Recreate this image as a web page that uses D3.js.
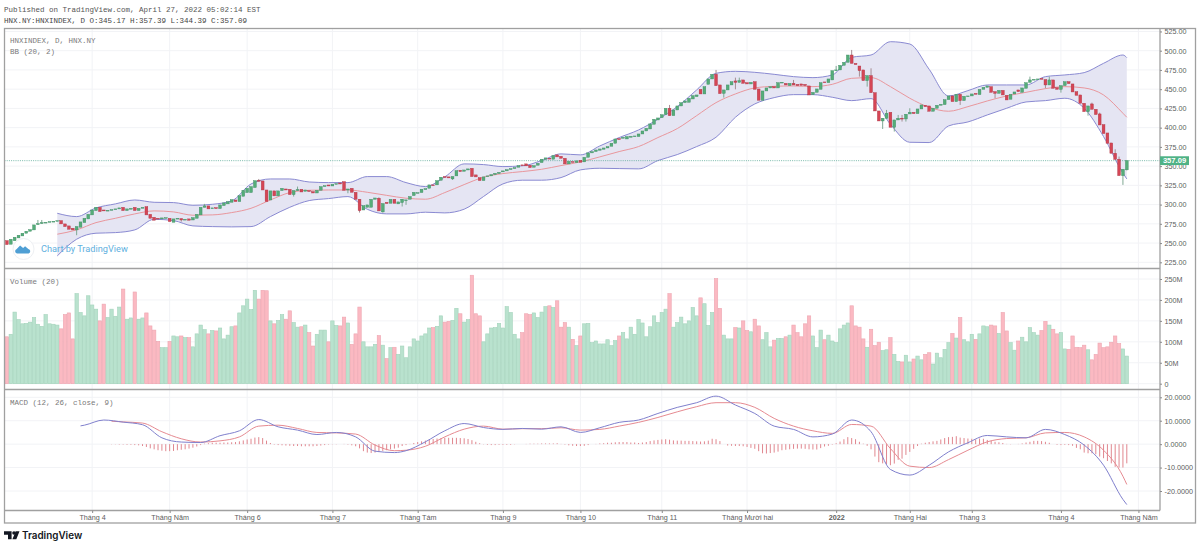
<!DOCTYPE html>
<html>
<head>
<meta charset="utf-8">
<script src="https://cdn.jsdelivr.net/npm/d3@7"></script>
<style>
    html, body { margin: 0; padding: 0; background: #fff; }
    svg { display: block; }
    .mono { font-family: "Liberation Mono", monospace; font-size: 7.5px; }
    .axis text { font-family: "Liberation Sans", sans-serif; font-size: 7.2px; fill: #5d5d5d; }
    .axis path { display: none; }
    .axis line { stroke: #8a8a8a; }
</style>
</head>
<body>
<svg id="chart" width="1200" height="547"></svg>
<script>
const opens = [
    253.2,248.5,253,256.7,259.3,262.8,265.4,267.1,274,275.3,
    276.6,277,277.9,278.3,279.2,274.9,272.3,269.3,267.1,270.6,
    276.6,281.4,286.6,292.2,296.5,293,291.8,292.6,293.5,294.4,
    296.5,292.2,294,296.5,292.2,295.2,297.4,287.4,283.5,282.2,
    281.4,282.7,282.2,277,281.4,281.8,280,281.4,280,282.2,
    286.6,296.5,298.3,294.8,296.1,294.8,298.7,300.9,303,306,
    303.9,310.8,315.6,315.6,322.1,331.6,330.7,319,306,317.8,
    311.3,318.2,320.3,319.9,313,318.2,319.9,317.3,318.2,316.9,
    315.1,318.6,323.4,325.5,324.2,326.4,328.1,329.9,319,321.2,
    316,306.9,293,296.5,296.5,306.9,308.2,290.5,303,301.7,
    306.9,300.9,302.7,305.3,307,311.7,314.8,315.6,319.5,321.3,
    325.6,325.6,331.6,336.4,336,333.4,337.3,344.6,343.3,345,
    347.2,338.6,335.1,331.2,336.4,337.3,339,340.3,342.5,343.8,
    345.5,346.8,348.6,351.6,352.9,351.2,348.6,351.2,354.6,359,
    360.2,359,364.6,362.8,360.2,352.9,355.9,354.6,357.6,355.5,
    361.5,367.2,368.9,370.6,371.9,373.6,375.8,379.7,385.8,386.2,
    385.3,387.5,388.4,388.4,391.8,395.7,398.3,404.4,410,413,
    416.9,425.2,415.6,423,428.2,432.5,433,437.3,440.3,449.8,
    443.8,456.3,463.3,469.3,455.5,444.6,449,455.5,460.7,458.9,
    462,458.5,456.8,459.8,450.3,435.6,447.7,451.6,453.3,451.6,
    458.5,457.6,454.6,457.6,456.3,456.8,456.3,454.2,442.9,445.9,
    449.8,459.4,458.5,462,474.1,475,481,484.9,494.4,483.6,
    480.1,475,461.1,467.6,445.5,421.7,408.7,412.2,420,400.5,
    410,412.2,411.3,417.8,420,418.2,424.3,429.1,428.2,421.3,
    425.2,429.1,429.9,436.4,441.2,433.8,443.3,435.1,440.8,441.2,
    444.6,442.9,449.8,452.4,453.3,446.8,444.6,448.5,442,436.9,
    443.8,449,446,451.1,458.9,462,462.4,464.1,462.4,455.5,
    462,452,449.8,454.6,459.8,456.8,446.8,442.5,431.7,420.8,
    430.8,423.9,417.8,404,393.1,380.1,366.7,358.9,337.7,345.17
];
const closes = [
    248,255,257.6,260.2,262.8,265.4,267.5,273.6,275.3,276.6,
    277,277.9,278.3,279.2,274.9,271.4,268,267.1,271.4,277.5,
    282.2,287.4,293,296.5,290.9,291.8,292.6,293.5,294.4,295.7,
    292.2,294.4,295.2,292.2,295.2,296.5,286.6,282.2,279.7,281.4,
    282.7,283.1,277.9,281.4,282.2,280,280.9,279.7,283.1,287.4,
    296.5,298.3,294.4,295.7,294.8,299.6,302.2,303.9,306.5,303.9,
    311.7,318.6,321.2,323.4,331.2,330.3,319,303.9,317.8,311.3,
    317.8,321.2,319,313,318.2,319.5,316.4,319,316.9,315.1,
    318.6,323.4,324.7,324.2,326.4,327.3,326.8,318.6,320.3,316,
    306.9,292.2,298.7,299.6,306.9,308.6,291.8,301.3,301.3,306.9,
    301.7,303.5,307,306.1,310.5,316,315.6,320,320.8,325.6,
    325.2,331.2,335.6,335.1,334.7,336.4,344.2,342.9,345,346.4,
    336.4,336,331.2,336,337.3,339,340.7,342,343.8,345.5,
    346.8,348.1,350.7,350.7,350.3,348.1,350.7,353.7,359,360.7,
    359.4,363.7,362,360.2,352.9,356.3,355,356.8,355,361.5,
    367.2,368.9,371,372.3,373.6,375.4,379.7,385.3,384.5,387.5,
    388.4,388.8,389.2,391.8,395.7,399.2,404.8,410.9,412.6,416.9,
    425.2,415.6,423,428.2,432.5,434.7,438.2,441.6,442.5,443.8,
    453.3,463.3,469.3,454.6,444.2,449,455.5,459.8,458.9,461.1,
    457.6,456.8,458.9,449.8,435.6,447.7,451.6,453.3,451.6,458.5,
    459,455.5,457.6,455.5,454.6,455,454.6,442.5,445.9,450.3,
    458.5,458.5,463.3,474.1,475,481,484.9,494.4,483.6,481.9,
    474.1,461.1,467.6,445.5,421.7,408.7,412.2,418.7,400.5,410,
    412.2,411.3,417.4,420,418.2,424.3,429.5,427.3,421.3,425.2,
    429.1,430.4,436.4,441.2,433.8,443.3,435.1,440.8,441.2,443.8,
    443.3,449.8,452.4,454.2,445.9,444.6,448.5,442.5,436,443.3,
    446.4,446.8,451.6,458.5,462,462.8,463.3,462.8,455.5,462,
    451.1,449.8,454.6,459.8,457.2,446.4,442,431.7,420.8,428.2,
    423.9,417,403.5,392.3,379.7,366.7,358.9,337.7,345.9,357.09
];
// only the bars with a visible wick: [bar, high, low]
const wicks = [
    [8,280,274],[9,280,275.3],[18,271.4,260.2],[45,281.8,277.9],[51,300.9,296.5],[65,333.3,330.3],
    [74,318.2,310.4],[75,323.4,318.2],[88,320.3,314.7],[91,306.9,289.6],[96,309.5,291.8],[97,301.3,289.6],
    [102,307,297.5],[103,306.1,299.6],[115,336.4,332],[171,429.5,415.6],[183,475,454.6],[185,449,439],
    [188,465,449.8],[189,465,458.9],[203,462,455.5],[214,480.2,474.1],[218,501,483.6],[220,480.1,466.3],
    [222,467.6,453.3],[223,477.1,445.5],[226,412.2,398.3],[227,423,412.2],[228,420,400.5],[229,410,394.9],
    [230,416.5,410],[231,416.5,407.9],[232,417.4,407.9],[233,425.2,417.8],[246,443.3,429.5],[255,446.8,438.2],
    [264,466.3,458.9],[268,462.4,451.1],[269,466.3,455.5],[272,454.6,445.5],[279,428.2,415.6],[280,432.5,423.9],
    [282,419.5,403.5],[286,371.9,358.9],[287,362.4,337.7],[288,345.9,325.6],[289,357.39,344.39]
];
const volumes = [
    112,118,171,153,143,144,147,158,142,137,
    165,143,142,140,131,165,169,107,215,170,
    162,210,188,178,150,190,158,178,161,183,
    226,154,157,219,154,157,169,138,128,101,
    86,86,101,114,112,114,110,110,88,119,
    140,129,119,127,126,133,107,116,136,138,
    169,186,202,177,223,202,223,222,150,143,
    151,165,154,174,146,135,136,140,122,90,
    118,128,128,100,150,139,138,159,145,94,
    119,183,100,88,88,94,115,92,60,86,
    87,70,90,62,88,107,102,114,119,133,
    134,137,162,147,149,151,180,167,147,153,
    259,167,162,100,119,133,134,144,133,184,
    170,118,107,122,167,165,169,158,171,184,
    186,182,198,135,146,135,106,91,114,143,
    144,98,102,95,95,105,91,103,114,122,
    107,135,118,153,145,112,136,162,146,170,
    178,215,135,146,159,143,150,182,162,205,
    191,139,170,251,180,116,107,107,134,133,
    150,127,124,154,138,105,122,88,104,108,
    108,112,116,140,122,112,143,162,114,86,
    128,105,116,102,98,131,140,145,186,138,
    135,107,87,130,91,99,79,81,110,70,
    53,52,68,52,59,66,57,70,74,47,
    73,62,82,98,120,109,158,105,100,118,
    106,119,138,136,140,138,120,170,126,98,
    80,102,111,100,134,122,116,127,149,140,
    130,119,122,83,82,114,87,86,92,81,
    57,70,97,86,88,99,114,96,83,66
];

// Bollinger bands, read every fifth bar
const bbBars = [
    13,18,23,28,33,38,43,48,53,58,63,68,73,78,83,88,93,98,
    103,108,113,118,123,128,133,138,143,148,153,158,163,168,173,178,183,188,193,198,203,
    208,213,218,223,228,233,238,243,248,253,258,263,268,273,278,283,288,289
];
const bbUpper = [
    288.7,284.4,295.7,300.9,306,303,302.6,299.1,300.4,304.8,326.8,333.3,333.3,329.4,328.6,328.6,336.4,336.4,
    328.6,323.4,336,352.9,352,349.4,350.3,357.2,365.9,364.6,376.2,387.1,397,410.9,427.3,449,470.6,473.2,471.9,469.3,466.3,
    465,468.5,491.4,494.4,511.7,508.7,475.8,441.2,448.1,455.5,455.5,455.5,466.3,468.5,471.5,483.6,494.4,491
];
const bbBasis = [
    261.5,267.1,276.6,282.2,287.9,291.8,290.5,286.2,286.6,289.6,295.2,306,315.6,318.6,319,319,316,312,
    308.3,307,315.6,326,335.6,340.3,342.9,345.9,350.7,355.5,362,368.9,375.4,387.1,398.8,415.6,432.5,443.8,451.6,453.7,454.2,
    453.3,456.3,464.1,465,453.3,438.2,426.5,421.3,427.3,434.7,441.2,445.9,450.7,453.3,451.6,442.5,418.7,413.5
];
const bbLower = [
    233.3,255,262.8,263.6,267.1,280.9,279.2,272.3,271.4,271,271.4,284.4,296.5,305.2,307.8,310.4,293.9,287.9,
    287.9,290.1,289.2,294,310.5,326.9,331.7,331.7,335.1,345.1,347.2,346.8,346.4,357.2,365,375.4,387.5,413.5,430.8,439,442.9,
    442.9,439.5,435.1,437.7,404.4,381,380.6,402.2,407.4,416.5,425.2,433.4,435.1,438.2,425.2,388.4,340.8,333.4
];

const macdBars = [
    19,20,25,30,35,40,45,50,55,60,65,70,75,80,85,90,95,100,
    103,108,113,118,123,128,133,138,143,148,153,158,163,168,173,178,183,188,193,198,203,
    208,213,218,223,228,233,238,243,248,253,258,263,268,273,278,283,288,289
];
const macdLine = [
    7.8,8.1,10.3,9.4,8.3,2.7,0.9,0.7,3.6,5.7,10.5,7.4,6,4.1,5,3.1,-3,-3.6,
    -2.8,1,5.7,8.8,7.1,6.3,6.7,6.4,7.4,5,7,9.3,10.3,13.1,15.7,17.7,20.5,16.7,13.1,7.7,6.3,
    3.1,4.3,10.3,5.3,-10.8,-13.2,-9,-3.3,0.6,3.7,3.1,2.7,6.3,4.1,-0.4,-9,-23.6,-25.8
];
const signalBars = [
    27,30,35,40,45,50,55,60,65,70,75,80,85,90,95,100,
    103,108,113,118,123,128,133,138,143,148,153,158,163,168,173,178,183,188,193,198,203,
    208,213,218,223,228,233,238,243,248,253,258,263,268,273,278,283,288,289
];
const signalLine = [
    9.8,9.5,9,5.3,2.3,0.9,1.4,3.1,7.7,8.1,6.7,5,4.8,4.3,-0.4,-2.8,
    -2.6,-0.9,3.1,6.4,7.7,6.4,6.6,6.6,7,6,6.3,7.7,9.3,11.4,13.8,16,17.7,17.7,15.7,11,7.7,
    5.7,4.6,8.4,7.7,-1.9,-9.4,-10,-6.6,-2.6,1,2.4,2.7,4.8,5,3.1,-2.6,-13.7,-17.2
];
const histStart = 27;
const histValues = [
    -0.1,-0.1,-0.2,-0.2,-0.3,-0.3,-0.4,-0.5,-0.8,-1.2,-1.8,-2.2,-2.6,
    -2.8,-3,-3,-2.9,-2.6,-2.4,-2.2,-1.9,-1.5,-1,-0.4,0.2,0.4,0.6,0.6,0.6,0.7,0.7,0.8,0.9,
    1.2,1.6,2,2.3,2.8,3,2.6,1.5,0.5,-0.2,-0.4,-0.5,-0.6,-0.7,-0.8,-0.8,-0.9,-0.9,-0.9,-0.9,
    -0.8,-0.6,-0.4,-0.2,-0.1,-0.1,0,0.1,-0.2,-0.5,-0.9,-1.8,-3,-3.6,-3.8,-3.6,-3.4,-2.9,-2.6,-2.2,-1.9,-1.5,
    -0.8,-0.4,0.1,0.5,0.9,1.2,1.5,1.9,2.2,2.4,2.5,2.7,2.7,2.7,2.7,2.6,2.5,2.2,1.7,1,0.4,
    -0.1,-0.3,-0.4,-0.4,-0.3,-0.3,-0.3,-0.3,-0.1,0,0,0.1,0.2,0.2,0.2,0.3,0.3,0.3,0.3,0.4,
    0.1,-0.2,-0.5,-0.7,-0.8,-0.8,-0.7,-0.4,0,0.1,0.3,0.4,0.6,0.6,0.8,0.9,0.9,0.9,0.7,0.7,
    0.5,0.7,0.9,1.3,1.6,1.8,2,2.1,1.9,1.6,1.5,1.5,1.4,1.4,1.3,1.2,1.1,1.2,1.5,2.3,2.1,1.3,
    0,-0.6,-0.7,-0.8,-0.8,-0.9,-1.2,-1.6,-2,-3,-3.9,-4,-3.8,-3.6,-3.2,-2.6,-2.4,-2.2,-2,-1.9,
    -1.9,-2,-2.2,-2.3,-2.3,-1.7,-1,-0.7,-0.2,0.4,1.1,2.1,3,2.6,2.1,1,0.2,-0.7,-2.2,-5.3,-7.7,
    -8.2,-8.5,-9,-8.3,-6.7,-6.2,-4.6,-3.3,-2,-0.8,0.2,0.6,0.9,1.2,1.4,2,2.6,3,3.1,3.4,2.8,2.6,
    2.4,2.3,2,2.4,2.3,1.8,1.4,1,0.8,0.5,0.1,-0.1,0,0.1,0.3,0.7,1,1.4,1.4,1.3,1,0.6,0,-0.3,
    -0.4,-0.3,-0.4,-0.7,-1.6,-2.2,-3.6,-3.9,-3.9,-4.3,-5.3,-6,-7.2,-8.2,-9.7,-10,-10,-8.2
];

const monthBars = [22,42,62,84,106,128,148,169,191,214,233,249,272,292];
const monthLabels = ["Tháng 4","Tháng Năm","Tháng 6","Tháng 7","Tháng Tám","Tháng 9","Tháng 10","Tháng 11","Tháng Mười hai","2022","Tháng Hai","Tháng 3","Tháng 4","Tháng Năm"];
const priceTicks = [225,250,275,300,325,350,375,400,425,450,475,500,525];
const volumeTicks = [0,50,100,150,200,250];
const macdTicks = [-20,-10,0,10,20];
const lastClose = 357.09;

const svg = d3.select("#chart");

const frameLeft = 4.5, frameRight = 1195.5, paneRight = 1160;
const priceTop = 28.5, priceBottom = 268.5, volumeBottom = 389.5, macdBottom = 510.5, frameBottom = 523;

const x = d3.scaleLinear().domain([0, 289]).range([6.9, 1126.8]);
const yPrice = d3.scaleLinear().domain([225, 500]).range([262.3, 50.7]);
const yVolume = d3.scaleLinear().domain([0, 250]).range([383.7, 279]);
const yMacd = d3.scaleLinear().domain([-20, 20]).range([491, 397.3]);

// grid
const panes = [
    { top: priceTop, bottom: priceBottom, scale: yPrice, ticks: priceTicks },
    { top: priceBottom, bottom: volumeBottom, scale: yVolume, ticks: volumeTicks },
    { top: volumeBottom, bottom: macdBottom, scale: yMacd, ticks: macdTicks }
];
const grid = svg.append("g").attr("stroke", "#f2f3f6").attr("stroke-width", 1);
panes.forEach(p => {
    grid.selectAll(null).data(p.ticks.filter(t => p.scale(t) > p.top)).enter().append("line")
        .attr("x1", frameLeft).attr("x2", paneRight)
        .attr("y1", d => p.scale(d)).attr("y2", d => p.scale(d));
    grid.selectAll(null).data(monthBars).enter().append("line")
        .attr("x1", d => x(d)).attr("x2", d => x(d))
        .attr("y1", p.top).attr("y2", p.bottom);
});

// Bollinger fill and lines
const bbRows = bbBars.map((b, i) => ({ bar: b, upper: bbUpper[i], basis: bbBasis[i], lower: bbLower[i] }));
svg.append("path").datum(bbRows)
    .attr("fill", "#e5e5f3")
    .attr("d", d3.area().curve(d3.curveMonotoneX)
        .x(d => x(d.bar)).y0(d => yPrice(d.lower)).y1(d => yPrice(d.upper)));

const bbLine = key => d3.line().curve(d3.curveMonotoneX).x(d => x(d.bar)).y(d => yPrice(d[key]));
svg.append("path").datum(bbRows).attr("fill", "none").attr("stroke", "#e9979d").attr("stroke-width", 1).attr("d", bbLine("basis"));
svg.append("path").datum(bbRows).attr("fill", "none").attr("stroke", "#8a8ad2").attr("stroke-width", 1).attr("d", bbLine("upper"));
svg.append("path").datum(bbRows).attr("fill", "none").attr("stroke", "#8a8ad2").attr("stroke-width", 1).attr("d", bbLine("lower"));

// last price line
svg.append("line")
    .attr("x1", frameLeft).attr("x2", paneRight)
    .attr("y1", yPrice(lastClose)).attr("y2", yPrice(lastClose))
    .attr("stroke", "#58a896").attr("stroke-width", 0.8).attr("stroke-dasharray", "1 1.2");

// candles
const bars = opens.map((o, i) => ({ i: i, open: o, close: closes[i], high: Math.max(o, closes[i]), low: Math.min(o, closes[i]), volume: volumes[i] }));
wicks.forEach(w => { bars[w[0]].high = w[1]; bars[w[0]].low = w[2]; });
const isUp = d => d.close >= d.open;

svg.append("g").selectAll("line").data(bars.filter(d => d.high > Math.max(d.open, d.close) || d.low < Math.min(d.open, d.close)))
    .enter().append("line")
    .attr("x1", d => x(d.i)).attr("x2", d => x(d.i))
    .attr("y1", d => yPrice(d.high)).attr("y2", d => yPrice(d.low))
    .attr("stroke", d => isUp(d) ? "#7fa893" : "#a58c92").attr("stroke-width", 1);

svg.append("g").selectAll("rect").data(bars).enter().append("rect")
    .attr("x", d => x(d.i) - 1.4)
    .attr("width", 2.8)
    .attr("y", d => yPrice(Math.max(d.open, d.close)))
    .attr("height", d => Math.max(0.8, Math.abs(yPrice(d.open) - yPrice(d.close))))
    .attr("fill", d => isUp(d) ? "#55ad79" : "#d54655")
    .attr("stroke", d => isUp(d) ? "#3c8a62" : "#ad3344")
    .attr("stroke-width", 0.4);

// volume
svg.append("g").selectAll("rect").data(bars).enter().append("rect")
    .attr("x", d => x(d.i) - 1.7)
    .attr("width", 3.4)
    .attr("y", d => yVolume(d.volume))
    .attr("height", d => yVolume(0) - yVolume(d.volume))
    .attr("fill", d => isUp(d) ? "#b9e2ce" : "#fbb9c2")
    .attr("stroke", d => isUp(d) ? "#a3d3bb" : "#eda6b1")
    .attr("stroke-width", 0.6);

// MACD
svg.append("g").selectAll("line").data(histValues).enter().append("line")
    .attr("x1", (d, i) => x(i + histStart)).attr("x2", (d, i) => x(i + histStart))
    .attr("y1", yMacd(0))
    .attr("y2", d => yMacd(d))
    .attr("stroke", "#e0878f").attr("stroke-width", 1);

const macdPath = d3.line().curve(d3.curveMonotoneX).x(d => x(d[0])).y(d => yMacd(d[1]));
svg.append("path").datum(d3.zip(signalBars, signalLine)).attr("fill", "none").attr("stroke", "#e68a91").attr("stroke-width", 1).attr("d", macdPath);
svg.append("path").datum(d3.zip(macdBars, macdLine)).attr("fill", "none").attr("stroke", "#8080cd").attr("stroke-width", 1).attr("d", macdPath);

// frame
const frame = svg.append("g").attr("stroke", "#a0a0a0").attr("stroke-width", 1.3).attr("fill", "none");
frame.append("rect").attr("x", frameLeft).attr("y", priceTop).attr("width", frameRight - frameLeft).attr("height", frameBottom - priceTop);
[priceBottom, volumeBottom, macdBottom].forEach(y => {
    frame.append("line").attr("x1", frameLeft).attr("x2", paneRight).attr("y1", y).attr("y2", y);
});
frame.append("line").attr("x1", paneRight).attr("x2", paneRight).attr("y1", priceTop).attr("y2", macdBottom);

// axes
const axisRight = (scale, ticks, format) => svg.append("g").attr("class", "axis")
    .attr("transform", `translate(${paneRight},0)`)
    .call(d3.axisRight(scale).tickValues(ticks).tickFormat(format).tickSize(2).tickPadding(2.5));

axisRight(yPrice, priceTicks, d => d.toFixed(2));
axisRight(yVolume, volumeTicks, d => d === 0 ? "0" : d + "M");
axisRight(yMacd, macdTicks, d => d.toFixed(4));

const timeLabels = d3.scaleOrdinal().domain(monthBars).range(monthLabels);
svg.append("g").attr("class", "axis")
    .attr("transform", `translate(0,${macdBottom})`)
    .call(d3.axisBottom(x).tickValues(monthBars).tickFormat(d => timeLabels(d)).tickSize(2.5).tickPadding(1.5))
    .selectAll(".tick").filter(d => d === 214).select("text").style("font-weight", "bold");

// last price tag, the 350.00 label sits partly under it as in the original
const tag = svg.append("g");
tag.append("rect").attr("x", paneRight).attr("y", yPrice(lastClose) - 4.4).attr("width", 29).attr("height", 8.8).attr("fill", "#4fb286");
tag.append("text").attr("x", paneRight + 14.5).attr("y", yPrice(lastClose) + 0.3)
    .attr("text-anchor", "middle").attr("dominant-baseline", "middle")
    .style("font-family", '"Liberation Sans", sans-serif').style("font-size", "7.6px").style("font-weight", "bold")
    .attr("fill", "#fff").text(lastClose.toFixed(2));

// titles
const textRows = [
    ["Published on TradingView.com, April 27, 2022 05:02:14 EST", 4, 11.5, "#555"],
    ["HNX.NY:HNXINDEX, D O:345.17 H:357.39 L:344.39 C:357.09", 4, 22.5, "#444"],
    ["HNXINDEX, D, HNX.NY", 10, 43, "#7a7a7a"],
    ["BB (20, 2)", 10, 54, "#7a7a7a"],
    ["Volume (20)", 10, 284, "#7a7a7a"],
    ["MACD (12, 26, close, 9)", 10, 404.5, "#7a7a7a"]
];
svg.append("g").selectAll("text").data(textRows).enter().append("text")
    .attr("class", "mono")
    .attr("x", d => d[1]).attr("y", d => d[2]).attr("fill", d => d[3]).text(d => d[0]);

// "Chart by TradingView" mark
const mark = svg.append("g");
mark.append("circle").attr("cx", 23.5).attr("cy", 249).attr("r", 10.5).attr("fill", "#fff").attr("stroke", "#eef0f3");
mark.append("path").attr("fill", "#4f9fd4")
    .attr("d", "M17 253.5 a2.4 2.4 0 0 1 -0.3 -4.6 l3.4 -3.4 l3 2.6 l2 -1.8 l3.2 2.6 a2.4 2.4 0 0 1 0.4 4.6 Z");
mark.append("text").attr("x", 41).attr("y", 252.3)
    .style("font-family", "Roboto, sans-serif").style("font-size", "9.2px")
    .attr("fill", "#5fb0de").text("Chart by TradingView");

// TradingView logo
const logo = svg.append("g").attr("fill", "#131722");
logo.append("path").attr("d", "M4 531.2 h7.6 v8 h-3.6 v-4.4 h-4 Z");
logo.append("circle").attr("cx", 14).attr("cy", 533).attr("r", 1.8);
logo.append("path").attr("d", "M15.7 531.2 h3.8 l-3.2 8 h-3.9 Z");
logo.append("text").attr("x", 22).attr("y", 539)
    .style("font-family", "Inter, Roboto, sans-serif").style("font-size", "9.9px").style("font-weight", "600")
    .text("TradingView");
</script>
</body>
</html>
